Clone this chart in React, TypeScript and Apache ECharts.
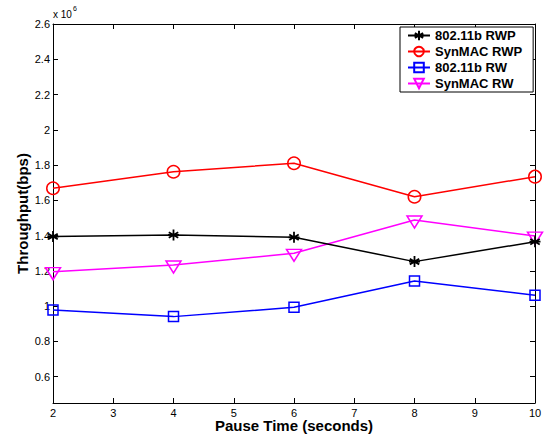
import React, { useEffect, useRef } from "react";
import * as echarts from "echarts";

const pauseTimes = [2, 4, 6, 8, 10];
const rwp80211b = [1.394e6, 1.403e6, 1.39e6, 1.252e6, 1.365e6];
const synmacRwp = [1.668e6, 1.762e6, 1.81e6, 1.62e6, 1.734e6];
const rw80211b = [0.978e6, 0.94e6, 0.993e6, 1.142e6, 1.061e6];
const synmacRw = [1.195e6, 1.233e6, 1.299e6, 1.488e6, 1.397e6];
const yTickValues = [0.6e6, 0.8e6, 1.0e6, 1.2e6, 1.4e6, 1.6e6, 1.8e6, 2.0e6, 2.2e6, 2.4e6, 2.6e6];
const seriesNames = ["802.11b RWP", "SynMAC RWP", "802.11b RW", "SynMAC RW"];

const FONT = "Liberation Sans, Arial, Helvetica, sans-serif";

const asteriskPath =
  "path://M5,0 L5,10 M0.7,2.5 L9.3,7.5 M0.7,7.5 L9.3,2.5 M0,5 L10,5";
const triDownPath = "path://M0,0 L15,0 L7.5,12 Z";

export default function App() {
  const ref = useRef<HTMLDivElement>(null);
  useEffect(() => {
    if (!ref.current) return;
    const chart = echarts.init(ref.current, undefined, { renderer: "svg" });
    const mk = (arr: number[]) => pauseTimes.map((x, i) => [x, arr[i]]);
    const yFmt = (v: number) => String(Math.round(v / 1e5) / 10);
    const tickStyle = { show: true, inside: true, length: 5, lineStyle: { color: "#000", width: 1 } };
    chart.setOption({
      animation: false,
      backgroundColor: "#fff",
      textStyle: { fontFamily: FONT },
      grid: { left: 53, right: 10, top: 24, bottom: 40, containLabel: false },
      legend: {
        orient: "vertical",
        left: 400,
        top: 27,
        data: seriesNames,
        backgroundColor: "#fff",
        borderColor: "#000",
        borderWidth: 1,
        borderRadius: 0,
        padding: [2, 11, 2, 7],
        itemGap: 3,
        itemWidth: 22,
        itemHeight: 12,
        textStyle: { fontSize: 13, fontWeight: "bold", color: "#000", fontFamily: FONT },
      },
      xAxis: [
        {
          type: "value",
          min: 2,
          max: 10,
          interval: 1,
          name: "Pause Time (seconds)",
          nameLocation: "middle",
          nameGap: 15,
          nameMoveOverlap: false,
          nameTextStyle: { fontSize: 15, lineHeight: 15, fontWeight: "bold", color: "#000", fontFamily: FONT },
          axisLine: { show: true, onZero: false, lineStyle: { color: "#000", width: 1 } },
          axisTick: tickStyle,
          axisLabel: { fontSize: 11, lineHeight: 11, color: "#000", margin: 4, fontFamily: FONT },
          splitLine: { show: false },
        },
        {
          type: "value",
          position: "top",
          min: 2,
          max: 10,
          interval: 1,
          axisLine: { show: true, onZero: false, lineStyle: { color: "#000", width: 1 } },
          axisTick: tickStyle,
          axisLabel: { show: false },
          splitLine: { show: false },
        },
      ],
      yAxis: [
        {
          type: "value",
          min: 0.45e6,
          max: 2.6e6,
          name: "Throughput(bps)",
          nameLocation: "middle",
          nameGap: 23,
          nameMoveOverlap: false,
          nameTextStyle: { fontSize: 15, fontWeight: "bold", color: "#000", fontFamily: FONT },
          axisLine: { show: true, onZero: false, lineStyle: { color: "#000", width: 1 } },
          axisTick: { ...tickStyle, customValues: yTickValues },
          axisLabel: {
            fontSize: 11,
            color: "#000",
            margin: 3,
            fontFamily: FONT,
            customValues: yTickValues,
            formatter: yFmt,
          },
          splitLine: { show: false },
        },
        {
          type: "value",
          position: "right",
          min: 0.45e6,
          max: 2.6e6,
          axisLine: { show: true, onZero: false, lineStyle: { color: "#000", width: 1 } },
          axisTick: { ...tickStyle, customValues: yTickValues },
          axisLabel: { show: false, customValues: yTickValues },
          splitLine: { show: false },
        },
      ],
      graphic: [
        { type: "text", left: 53, top: 9, style: { text: "x 10", fontSize: 10, fill: "#000", fontFamily: FONT } },
        { type: "text", left: 73, top: 5, style: { text: "6", fontSize: 7, fill: "#000", fontFamily: FONT } },
      ],
      series: [
        {
          name: seriesNames[0],
          type: "line",
          data: mk(rwp80211b),
          color: "#000",
          symbol: asteriskPath,
          symbolSize: 11,
          lineStyle: { color: "#000", width: 1.5 },
          itemStyle: { color: "#000", borderColor: "#000", borderWidth: 1.8 },
          z: 4,
        },
        {
          name: seriesNames[1],
          type: "line",
          data: mk(synmacRwp),
          color: "#ff0000",
          symbol: "circle",
          symbolSize: 12.5,
          lineStyle: { color: "#ff0000", width: 1.5 },
          itemStyle: { color: "rgba(255,255,255,0)", borderColor: "#ff0000", borderWidth: 1.5 },
          z: 3,
        },
        {
          name: seriesNames[2],
          type: "line",
          data: mk(rw80211b),
          color: "#0000ff",
          symbol: "rect",
          symbolSize: 10,
          lineStyle: { color: "#0000ff", width: 1.5 },
          itemStyle: { color: "rgba(255,255,255,0)", borderColor: "#0000ff", borderWidth: 1.5 },
          z: 3,
        },
        {
          name: seriesNames[3],
          type: "line",
          data: mk(synmacRw),
          color: "#ff00ff",
          symbol: triDownPath,
          symbolSize: [15, 12],
          symbolOffset: [0, 2],
          lineStyle: { color: "#ff00ff", width: 1.5 },
          itemStyle: { color: "rgba(255,255,255,0)", borderColor: "#ff00ff", borderWidth: 1.5 },
          z: 3,
        },
      ],
    });
    return () => chart.dispose();
  }, []);
  return (
    <div
      ref={ref}
      style={{ position: "fixed", left: 0, top: 0, width: 545, height: 443, background: "#fff" }}
    />
  );
}
